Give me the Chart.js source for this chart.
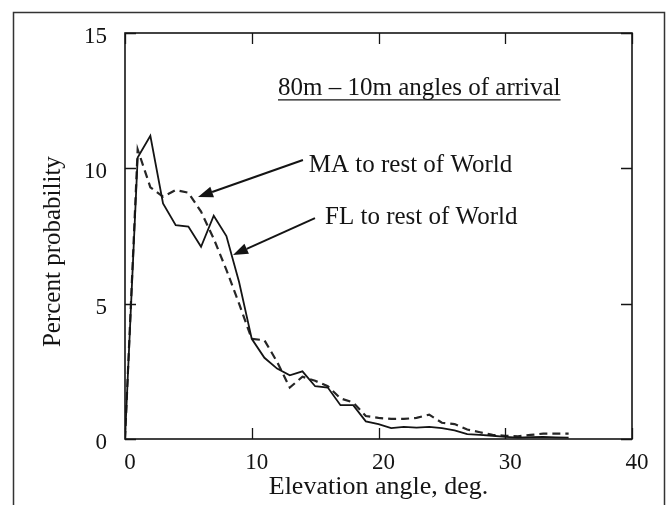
<!DOCTYPE html>
<html>
<head>
<meta charset="utf-8">
<script src="https://cdn.jsdelivr.net/npm/chart.js@4.4.1/dist/chart.umd.min.js"></script>
<style>
  html, body { margin: 0; padding: 0; background: #fff; }
  #wrap { width: 670px; height: 505px; position: relative; }
</style>
</head>
<body>
<div id="wrap"><canvas id="c" width="670" height="505"></canvas></div>
<script>
// Elevation angle, degrees
const angles = [0,1,2,3,4,5,6,7,8,9,10,11,12,13,14,15,16,17,18,19,20,21,22,23,24,25,26,27,28,29,30,31,32,33,34,35];
// FL to rest of World (solid)
const flValues = [0,10.4,11.2,8.7,7.9,7.85,7.1,8.25,7.5,5.8,3.7,3.0,2.6,2.35,2.5,1.95,1.9,1.25,1.25,0.65,0.55,0.4,0.45,0.42,0.45,0.4,0.32,0.18,0.15,0.12,0.08,0.05,0.07,0.08,0.06,0.05];
// MA to rest of World (dashed)
const maValues = [0,10.7,9.3,8.95,9.2,9.1,8.4,7.4,6.25,5.0,3.7,3.65,2.85,1.9,2.3,2.15,1.95,1.5,1.35,0.85,0.78,0.74,0.74,0.78,0.9,0.6,0.55,0.35,0.25,0.15,0.12,0.1,0.15,0.2,0.2,0.2];
const xTickValues = [0,10,20,30,40];
const yTickValues = [0,5,10,15];

const seriesNames = ["FL to rest of World", "MA to rest of World"];
const chartTitle = "80m \u2013 10m angles of arrival";
const xTitle = "Elevation angle, deg.";
const yTitle = "Percent probability";

const SERIF = "'Liberation Serif', 'Times New Roman', serif";
const INK = "#141414";

function pts(vals) { return angles.map((a, i) => ({ x: a, y: vals[i] })); }

const decorPlugin = {
  id: 'decor',
  afterDraw(chart) {
    const ctx = chart.ctx;
    const xs = chart.scales.x, ys = chart.scales.y;
    const a = chart.chartArea;
    ctx.save();
    // outer frame
    ctx.strokeStyle = "#333";
    ctx.lineWidth = 1.5;
    ctx.strokeRect(13.5, 12.5, 651, 510);
    // axes box
    ctx.strokeStyle = INK;
    ctx.lineWidth = 1.6;
    ctx.strokeRect(a.left, a.top, a.right - a.left, a.bottom - a.top);
    // inside ticks
    const tl = 11;
    ctx.lineWidth = 1.3;
    ctx.beginPath();
    xTickValues.forEach(v => {
      const px = Math.round(xs.getPixelForValue(v)) + 0.5;
      ctx.moveTo(px, a.bottom); ctx.lineTo(px, a.bottom - tl);
      ctx.moveTo(px, a.top); ctx.lineTo(px, a.top + tl);
    });
    yTickValues.forEach(v => {
      const py = Math.round(ys.getPixelForValue(v)) + 0.5;
      ctx.moveTo(a.left, py); ctx.lineTo(a.left + tl, py);
      ctx.moveTo(a.right, py); ctx.lineTo(a.right - tl, py);
    });
    ctx.stroke();

    const P = (x, y) => [xs.getPixelForValue(x), ys.getPixelForValue(y)];
    // title with underline
    ctx.fillStyle = INK;
    ctx.font = "25px " + SERIF;
    ctx.textBaseline = "middle";
    ctx.textAlign = "left";
    let [tx, ty] = P(12.07, 12.97);
    ctx.fillText(chartTitle, tx, ty);
    const tw = ctx.measureText(chartTitle).width;
    ctx.lineWidth = 1.3;
    ctx.beginPath();
    ctx.moveTo(tx, ty + 12); ctx.lineTo(tx + tw, ty + 12);
    ctx.stroke();
    // labels
    let [mx, my] = P(14.5, 10.12);
    ctx.fillText(seriesNames[1], mx, my);
    let [fx, fy] = P(15.78, 8.2);
    ctx.fillText(seriesNames[0], fx, fy);
    // arrows
    function arrow(x1, y1, x2, y2) {
      const [sx, sy] = P(x1, y1), [ex, ey] = P(x2, y2);
      const ang = Math.atan2(ey - sy, ex - sx);
      const hl = 15, hw = 5.5;
      const bx = ex - hl * Math.cos(ang), by = ey - hl * Math.sin(ang);
      ctx.lineWidth = 2;
      ctx.beginPath();
      ctx.moveTo(sx, sy); ctx.lineTo(bx, by);
      ctx.stroke();
      ctx.beginPath();
      ctx.moveTo(ex, ey);
      ctx.lineTo(bx + hw * Math.sin(ang), by - hw * Math.cos(ang));
      ctx.lineTo(bx - hw * Math.sin(ang), by + hw * Math.cos(ang));
      ctx.closePath();
      ctx.fill();
    }
    arrow(14.04, 10.31, 5.76, 8.94);
    arrow(14.99, 8.16, 8.52, 6.80);
    ctx.restore();
  }
};

new Chart(document.getElementById('c'), {
  type: 'line',
  data: {
    datasets: [
      { label: seriesNames[0], data: pts(flValues), borderColor: INK, borderWidth: 1.8,
        pointRadius: 0, tension: 0, fill: false },
      { label: seriesNames[1], data: pts(maValues), borderColor: "#262626", borderWidth: 2.2,
        borderDash: [8, 5], pointRadius: 0, tension: 0, fill: false }
    ]
  },
  options: {
    responsive: false,
    animation: false,
    devicePixelRatio: 1,
    layout: { padding: { left: 0, right: 38, top: 33, bottom: 0 } },
    plugins: { legend: { display: false }, tooltip: { enabled: false } },
    scales: {
      x: {
        type: 'linear', min: 0, max: 40,
        afterBuildTicks: s => { s.ticks = xTickValues.map(v => ({ value: v })); },
        afterFit: s => { s.height = 66; },
        grid: { display: false, drawTicks: false },
        border: { display: false },
        ticks: { color: INK, font: { family: SERIF, size: 23 }, padding: 10, labelOffset: 5, maxRotation: 0 },
        title: { display: true, text: xTitle, color: INK, font: { family: SERIF, size: 26 }, padding: { top: 0, bottom: 2 } }
      },
      y: {
        min: 0, max: 15,
        afterBuildTicks: s => { s.ticks = yTickValues.map(v => ({ value: v })); },
        afterFit: s => { s.width = 125; },
        grid: { display: false, drawTicks: false },
        border: { display: false },
        ticks: { color: INK, font: { family: SERIF, size: 23 }, padding: 18, labelOffset: 4 },
        title: { display: true, text: yTitle + "     ", color: INK, font: { family: SERIF, size: 25 }, padding: { top: 38, bottom: 0 } }
      }
    }
  },
  plugins: [decorPlugin]
});
</script>
</body>
</html>
